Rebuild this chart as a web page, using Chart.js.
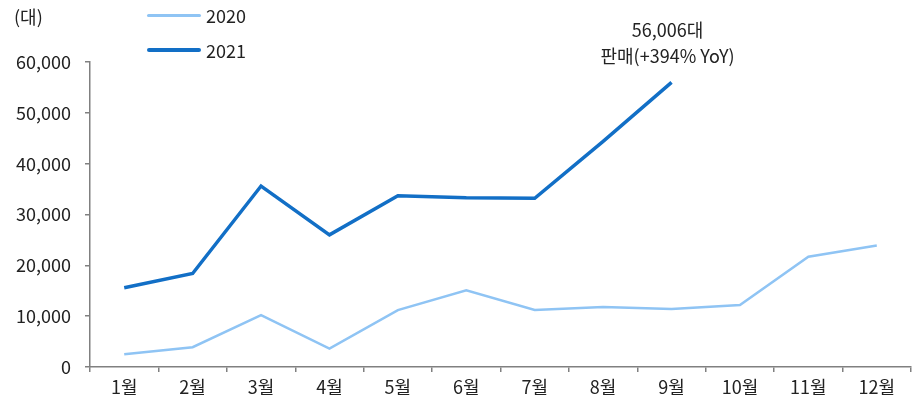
<!DOCTYPE html>
<html>
<head>
<meta charset="utf-8">
<script src="https://cdn.jsdelivr.net/npm/chart.js@4.4.0/dist/chart.umd.min.js"></script>
<style>
    html, body { margin: 0; padding: 0; background: #fff; }
    #wrap { position: relative; width: 913px; height: 405px; font-family: "Noto Sans CJK KR", "Noto Sans", sans-serif; color: #222; }
    #unit { position: absolute; left: 14px; top: 3px; font-size: 18px; }
    .legend-item { position: absolute; left: 147px; height: 24px; display: flex; align-items: center; font-size: 18px; }
    .legend-item span.swatch { display: inline-block; width: 54px; margin-right: 5px; border-radius: 2px; }
</style>
</head>
<body>
<div id="wrap">
    <canvas id="salesChart" width="913" height="405"></canvas>
    <div id="unit">(대)</div>
    <div id="legend"></div>
</div>
<script>
// Chart data
const months = ['1월', '2월', '3월', '4월', '5월', '6월', '7월', '8월', '9월', '10월', '11월', '12월'];
const sales2020 = [2500, 3900, 10200, 3600, 11200, 15100, 11200, 11800, 11400, 12200, 21700, 23900];
const sales2021 = [15600, 18400, 35600, 26000, 33700, 33300, 33200, 44400, 56006, null, null, null];
const seriesNames = ['2020', '2021'];
const calloutLines = ['56,006대', '판매(+394% YoY)'];

const FONT = '"Noto Sans CJK KR", "Noto Sans", sans-serif';
const COLORS = ['#8fc4f4', '#126fc6'];
const WIDTHS = [2.5, 3.5];
const AXIS_COLOR = '#808080';

// Legend (stacked vertically, drawn as html)
const legendEl = document.getElementById('legend');
seriesNames.forEach((name, i) => {
    const item = document.createElement('div');
    item.className = 'legend-item';
    item.style.top = (i === 0 ? 3 : 38) + 'px';
    item.innerHTML = `<span class="swatch" style="height:${WIDTHS[i] + 0.5}px;background:${COLORS[i]}"></span>${name}`;
    legendEl.appendChild(item);
});

// Callout above the September 2021 point
const calloutPlugin = {
    id: 'callout',
    afterDatasetsDraw(chart) {
        const meta = chart.getDatasetMeta(1);
        const pt = meta.data[8];
        if (!pt) return;
        const ctx = chart.ctx;
        ctx.save();
        ctx.font = '18px ' + FONT;
        ctx.fillStyle = '#222';
        ctx.textAlign = 'center';
        ctx.textBaseline = 'middle';
        ctx.fillText(calloutLines[0], pt.x - 4, 30);
        ctx.fillText(calloutLines[1], pt.x - 4, 56);
        ctx.restore();
    }
};

new Chart(document.getElementById('salesChart').getContext('2d'), {
    type: 'line',
    data: {
        labels: months,
        datasets: [
            {
                label: seriesNames[0],
                data: sales2020,
                borderColor: COLORS[0],
                borderWidth: WIDTHS[0],
                pointRadius: 0,
                tension: 0
            },
            {
                label: seriesNames[1],
                data: sales2021,
                borderColor: COLORS[1],
                borderWidth: WIDTHS[1],
                pointRadius: 0,
                tension: 0,
                spanGaps: false
            }
        ]
    },
    options: {
        responsive: false,
        animation: false,
        layout: { padding: { top: 62, right: 2, bottom: 0, left: 0 } },
        plugins: {
            legend: { display: false },
            tooltip: { enabled: false }
        },
        scales: {
            x: {
                offset: true,
                grid: {
                    offset: true,
                    drawOnChartArea: false,
                    drawTicks: true,
                    tickLength: 5,
                    color: AXIS_COLOR,
                    lineWidth: 1.5
                },
                border: { color: AXIS_COLOR, width: 1.5 },
                ticks: {
                    color: '#222',
                    font: { family: FONT, size: 18 },
                    padding: 4,
                    maxRotation: 0
                },
                afterFit(scale) { scale.height = 38; }
            },
            y: {
                min: 0,
                max: 60000,
                grid: {
                    drawOnChartArea: false,
                    drawTicks: true,
                    tickLength: 5,
                    color: AXIS_COLOR,
                    lineWidth: 1.5
                },
                border: { color: AXIS_COLOR, width: 1.5 },
                ticks: {
                    stepSize: 10000,
                    color: '#222',
                    font: { family: FONT, size: 18 },
                    padding: 14,
                    callback: v => v.toLocaleString('en-US')
                },
                afterFit(scale) { scale.width = 90; }
            }
        }
    },
    plugins: [calloutPlugin]
});
</script>
</body>
</html>
